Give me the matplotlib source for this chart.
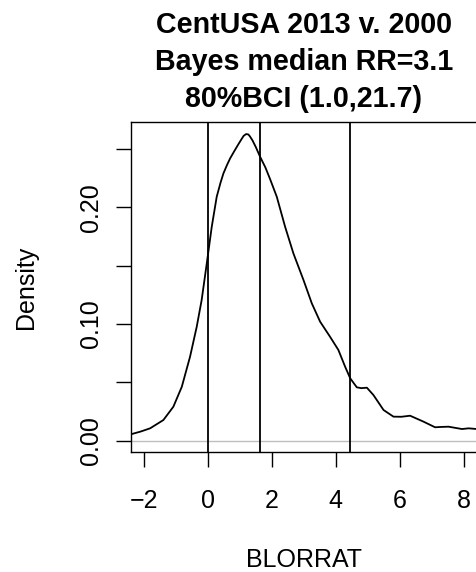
import matplotlib
matplotlib.use("Agg")
import matplotlib.pyplot as plt
import numpy as np

plt.rcParams['font.family'] = ['Liberation Sans', 'DejaVu Sans']

title_lines = ["CentUSA 2013 v. 2000", "Bayes median RR=3.1", "80%BCI (1.0,21.7)"]
x_label = "BLORRAT"
y_label = "Density"

# density curve (x = log2 RR)
dens_x = [-2.40, -2.375, -2.10, -1.80, -1.386, -1.074, -0.81, -0.553, -0.344, -0.19, -0.03,
          0.125, 0.28, 0.40, 0.49, 0.60, 0.70, 0.83, 0.96, 1.05, 1.12, 1.20, 1.27, 1.32,
          1.40, 1.50, 1.634, 1.80, 1.947,
          2.156, 2.416, 2.675, 2.99, 3.25, 3.51, 3.82, 4.08, 4.29, 4.45, 4.656,
          4.80, 4.97, 5.175, 5.49, 5.80, 6.05, 6.32, 6.74, 7.10, 7.30, 7.52, 7.94,
          8.15, 8.40]
dens_y = [0.0054, 0.0057, 0.0078, 0.0106, 0.0177, 0.0291, 0.0462, 0.0719, 0.0976, 0.1205, 0.1519,
          0.1832, 0.2089, 0.2210, 0.2289, 0.2360, 0.2418, 0.2480, 0.2540, 0.2580, 0.2610, 0.2626, 0.2622, 0.2605,
          0.2570, 0.2515, 0.2432, 0.2340, 0.2240,
          0.2089, 0.1832, 0.1604, 0.1376, 0.1176, 0.1019, 0.0890, 0.0777,
          0.0634, 0.0534, 0.0457, 0.0450, 0.0454, 0.0391, 0.0263, 0.0206, 0.0205, 0.0214,
          0.0163, 0.0115, 0.0118, 0.0120, 0.0100, 0.0106, 0.0100]

# vertical reference lines: log2 of BCI lower, median, BCI upper
ref_rr = [1.0, 3.1, 21.7]

x_ticks = [-2, 0, 2, 4, 6, 8]
y_ticks = [0.00, 0.05, 0.10, 0.15, 0.20, 0.25]
y_tick_labels = ["0.00", "", "0.10", "", "0.20", ""]

W, H = 477, 572
fig = plt.figure(figsize=(W / 100, H / 100), dpi=100)
ax = fig.add_axes([131 / W, 1 - 452 / H, (476.7 - 131) / W, (452 - 122) / H])

ax.axhline(0, color="#BEBEBE", lw=1.0, zorder=1)
ax.plot(dens_x, dens_y, color="black", lw=1.3, zorder=3)
for rr in ref_rr:
    ax.axvline(np.log2(rr), color="black", lw=1.3, zorder=2)

ax.set_xlim(-2.397, 8.40)
ax.set_ylim(-0.00967, 0.2729)

ax.set_xticks(x_ticks)
ax.set_xticklabels([str(t).replace("-", "\u2212") for t in x_ticks])
ax.set_yticks(y_ticks)
ax.set_yticklabels(y_tick_labels, rotation=90, va="center")
ax.tick_params(axis="both", length=10.8, width=1.0, labelsize=18, direction="out")
ax.tick_params(axis="x", pad=16)
ax.tick_params(axis="y", pad=9.5)
for s in ax.spines.values():
    s.set_linewidth(1.0)

ys = [33.3, 70.0, 106.5]
for line, yb in zip(title_lines, ys):
    fig.text(303.8 / W, 1 - yb / H, line, ha="center", va="baseline",
             fontsize=20.6, fontweight="bold")

fig.text(304 / W, 1 - 567 / H, x_label, ha="center", va="baseline", fontsize=18)
fig.text(26.4 / W, 1 - 287 / H, y_label, ha="center", va="center", fontsize=18, rotation=90)

fig.savefig("out.png", dpi=100)
